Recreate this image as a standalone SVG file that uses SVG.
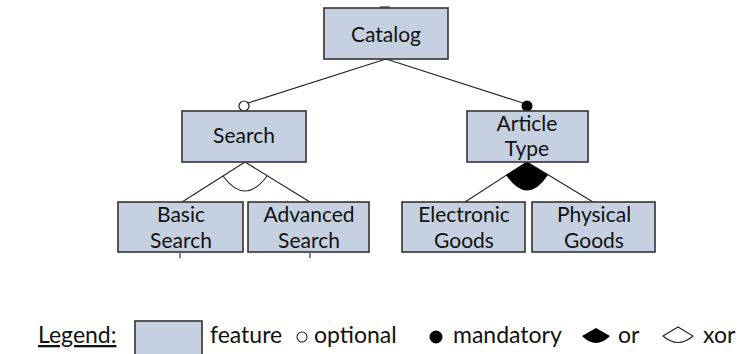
<svg xmlns="http://www.w3.org/2000/svg" width="740" height="354" viewBox="0 0 740 354">
<style>
.box{fill:#c5d1e0;stroke:#333;stroke-width:1.6}
.t{font-family:Lato,"Liberation Sans",sans-serif;font-size:21px;fill:#111;text-anchor:middle}
.lt{font-family:Lato,"Liberation Sans",sans-serif;font-size:23px;fill:#111}
.ln{stroke:#222;stroke-width:1.1;fill:none}
</style>
<rect width="740" height="354" fill="#fff"/>
<g id="connectors">
<line class="ln" x1="386" y1="59" x2="248" y2="103"/>
<line class="ln" x1="386" y1="59" x2="523" y2="103"/>
<line class="ln" x1="245" y1="162" x2="182" y2="202"/>
<line class="ln" x1="245" y1="162" x2="310" y2="202"/>
<path class="ln" d="M223,176 Q245,206 267,176"/>
<line class="ln" x1="527" y1="162" x2="465" y2="202"/>
<line class="ln" x1="527" y1="162" x2="593" y2="202"/>
<path d="M527,162 L506,175 Q527,206 548,175 Z" fill="#000"/>
<circle cx="244" cy="106" r="5" fill="#fff" stroke="#222" stroke-width="1.2"/>
<circle cx="527" cy="106" r="5.5" fill="#000"/>
<line class="ln" x1="380" y1="7" x2="390" y2="7" stroke-width="2"/>
<line class="ln" x1="180" y1="253" x2="180" y2="258"/>
<line class="ln" x1="310" y1="253" x2="310" y2="258"/>
</g>
<g id="catalog"><rect class="box" x="324" y="8" width="124" height="51"/><text class="t" x="386" y="42">Catalog</text></g>
<g id="search"><rect class="box" x="182" y="111" width="124" height="51"/><text class="t" x="244" y="143">Search</text></g>
<g id="article-type"><rect class="box" x="467" y="111" width="121" height="51"/><text class="t" x="527" y="131">Article</text><text class="t" x="527" y="156">Type</text></g>
<g id="basic-search"><rect class="box" x="118" y="202" width="125" height="50"/><text class="t" x="181" y="222">Basic</text><text class="t" x="181" y="248">Search</text></g>
<g id="advanced-search"><rect class="box" x="248" y="202" width="121" height="50"/><text class="t" x="309" y="222">Advanced</text><text class="t" x="309" y="248">Search</text></g>
<g id="electronic-goods"><rect class="box" x="402" y="202" width="123" height="50"/><text class="t" x="464" y="222">Electronic</text><text class="t" x="464" y="248">Goods</text></g>
<g id="physical-goods"><rect class="box" x="532" y="202" width="123" height="50"/><text class="t" x="594" y="222">Physical</text><text class="t" x="594" y="248">Goods</text></g>
<g id="legend">
<text class="lt" x="38" y="343" font-size="21" text-decoration="underline">Legend:</text>
<rect class="box" x="135" y="321" width="67" height="40"/>
<text class="lt" x="210" y="343">feature</text>
<circle cx="302" cy="337" r="5" fill="#fff" stroke="#222" stroke-width="1.1"/>
<text class="lt" x="314" y="343">optional</text>
<circle cx="436" cy="337" r="6.5" fill="#000"/>
<text class="lt" x="453" y="343">mandatory</text>
<path d="M582,336 L596,328 L610,336 Q596,350 582,336 Z" fill="#000"/>
<text class="lt" x="618" y="343">or</text>
<path d="M663,336 L678,327 L693,336 Q678,349 663,336 Z" fill="#fff" stroke="#222" stroke-width="1.1"/>
<text class="lt" x="703" y="343">xor</text>
</g>
</svg>
